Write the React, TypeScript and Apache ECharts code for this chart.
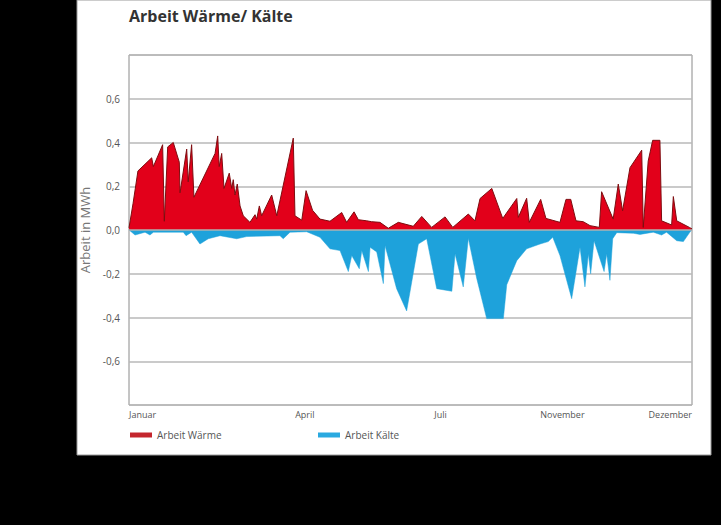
import React, { useEffect, useRef } from "react";
import * as echarts from "echarts";

const title = "Arbeit Wärme/ Kälte";
const yAxisName = "Arbeit in MWh";
const seriesNames = ["Arbeit Wärme", "Arbeit Kälte"];
const monthLabels = ["Januar", "April", "Juli", "November", "Dezember"];
const monthPositions = [0, 114, 202, 281, 365];

// day of year, value in MWh
const waermeDays = [
  0, 2.6, 5.8, 14.7, 15.8, 21.8, 22.9, 25.1, 28.7, 32.6, 33.1, 37.4, 38.4, 40.6, 42.1,
  55.8, 57.5, 58.5, 60.1, 61.6, 65.0, 66.6, 67.6, 68.7, 70.2, 72.0, 74.1, 78.4, 81.7,
  82.8, 84.5, 86.0, 92.5, 95.8, 106.5, 107.6, 112.0, 114.8, 119.0, 123.8, 130.3, 137.9,
  141.1, 145.9, 148.7, 154.1, 157.3, 162.7, 168.1, 174.6, 184.3, 189.8, 196.2, 204.9,
  209.9, 220.0, 224.3, 227.6, 235.2, 242.3, 251.4, 252.4, 257.8, 259.5, 266.9, 270.3,
  279.4, 283.3, 286.4, 289.8, 294.5, 298.9, 304.9, 306.4, 313.9, 317.2, 320.0, 324.8,
  332.4, 333.4, 336.6, 339.5, 344.2, 345.3, 351.8, 352.9, 355.1, 363.3, 365,
];
const waermeValues = [
  0.01, 0.12, 0.27, 0.33, 0.29, 0.39, 0.04, 0.38, 0.4, 0.31, 0.17, 0.37, 0.22, 0.39, 0.15,
  0.35, 0.43, 0.29, 0.35, 0.19, 0.26, 0.19, 0.23, 0.16, 0.21, 0.11, 0.065, 0.035, 0.07,
  0.05, 0.11, 0.065, 0.16, 0.065, 0.42, 0.065, 0.045, 0.18, 0.09, 0.05, 0.04, 0.08,
  0.035, 0.083, 0.047, 0.042, 0.038, 0.035, 0.008, 0.035, 0.017, 0.062, 0.012, 0.06,
  0.012, 0.073, 0.042, 0.144, 0.19, 0.053, 0.144, 0.058, 0.145, 0.035, 0.14, 0.053,
  0.035, 0.14, 0.14, 0.042, 0.038, 0.02, 0.012, 0.175, 0.05, 0.21, 0.088, 0.285,
  0.365, 0.012, 0.315, 0.41, 0.41, 0.042, 0.023, 0.153, 0.042, 0.012, 0.005,
];

const kaelteDays = [
  0, 1.8, 3.9, 10.4, 13.6, 15.8, 35.2, 37.0, 40.6, 46.0, 51.4, 59.0, 69.8, 76.3, 97.9,
  100.0, 104.4, 115.2, 123.8, 130.3, 136.8, 142.2, 144.4, 149.3, 150.9, 155.2, 156.3,
  160.6, 164.9, 166.0, 173.5, 180.0, 187.6, 193.0, 199.5, 209.3, 211.4, 216.7, 220.0,
  225.4, 231.9, 242.7, 244.9, 251.4, 257.8, 266.5, 271.8, 274.7, 279.4, 287.0, 292.4,
  295.6, 297.8, 299.3, 301.5, 308.0, 309.7, 311.8, 313.6, 316.2, 327.0, 331.3, 339.9,
  345.3, 348.5, 355.1, 359.4, 363.8, 365,
];
const kaelteValues = [
  0, -0.01, -0.023, -0.01, -0.023, -0.01, -0.01, -0.026, -0.01, -0.064, -0.04, -0.026,
  -0.04, -0.03, -0.026, -0.04, -0.01, -0.008, -0.033, -0.086, -0.094, -0.19, -0.117,
  -0.177, -0.094, -0.19, -0.079, -0.1, -0.245, -0.071, -0.268, -0.37, -0.064, -0.04,
  -0.268, -0.28, -0.109, -0.26, -0.038, -0.22, -0.405, -0.405, -0.25, -0.14, -0.086,
  -0.064, -0.053, -0.033, -0.117, -0.314, -0.079, -0.26, -0.109, -0.2, -0.049, -0.19,
  -0.109, -0.23, -0.04, -0.012, -0.015, -0.02, -0.01, -0.023, -0.01, -0.049, -0.053,
  -0.008, 0,
];

const FONT = "'Open Sans', 'Noto Sans', sans-serif";

export default function App() {
  const ref = useRef<HTMLDivElement>(null);

  useEffect(() => {
    document.body.style.margin = "0";
    const chart = echarts.init(ref.current!, null, { renderer: "svg" });
    const waerme = waermeDays.map((d, i) => [d, waermeValues[i]]);
    const kaelte = kaelteDays.map((d, i) => [d, kaelteValues[i]]);

    chart.setOption({
      animation: false,
      backgroundColor: "#000000",
      textStyle: { fontFamily: FONT },
      graphic: [
        {
          type: "rect",
          z: -10,
          silent: true,
          shape: { x: 77, y: 0, width: 634, height: 455 },
          style: { fill: "#ffffff", stroke: "#9a9a9a", lineWidth: 1 },
        },
      ],
      title: {
        text: title,
        left: 124,
        top: 3,
        textStyle: { fontFamily: FONT, fontSize: 16, fontWeight: "bold", color: "#333333" },
      },
      legend: [
        {
          left: 130,
          top: 430,
          padding: 0,
          icon: "rect",
          itemWidth: 22,
          itemHeight: 5,
          itemGap: 10,
          selectedMode: false,
          textStyle: { fontFamily: FONT, fontSize: 10, color: "#555555" },
          data: [{ name: seriesNames[0], itemStyle: { color: "#c4262e" } }],
        },
        {
          left: 318,
          top: 430,
          padding: 0,
          icon: "rect",
          itemWidth: 22,
          itemHeight: 5,
          selectedMode: false,
          textStyle: { fontFamily: FONT, fontSize: 10, color: "#555555" },
          data: [{ name: seriesNames[1], itemStyle: { color: "#2aa9e0" } }],
        },
      ],
      grid: {
        left: 129,
        top: 55,
        right: 29,
        bottom: 120,
        show: true,
        borderColor: "#8a8a8a",
        borderWidth: 1,
        backgroundColor: "transparent",
      },
      xAxis: {
        type: "value",
        min: 0,
        max: 365,
        axisLine: { show: false },
        axisTick: { show: false },
        splitLine: { show: false },
        axisLabel: {
          customValues: monthPositions,
          formatter: (v: number) => {
            const i = monthPositions.indexOf(v);
            return i >= 0 ? monthLabels[i] : "";
          },
          alignMinLabel: "left",
          alignMaxLabel: "right",
          fontSize: 9,
          color: "#555555",
          margin: 5,
          fontFamily: FONT,
        },
      },
      yAxis: {
        type: "value",
        min: -0.8,
        max: 0.8,
        interval: 0.2,
        name: yAxisName,
        nameLocation: "middle",
        nameRotate: 90,
        nameGap: 37,
        nameTextStyle: { fontFamily: FONT, fontSize: 13, color: "#777777" },
        axisLine: { show: false },
        axisTick: { show: false },
        splitLine: { show: true, lineStyle: { color: "#b8b8b8", width: 1.5 } },
        axisLabel: {
          fontSize: 10,
          color: "#555555",
          margin: 9,
          fontFamily: FONT,
          formatter: (v: number) =>
            Math.abs(v) > 0.7 ? "" : v.toFixed(1).replace(".", ","),
        },
      },
      series: [
        {
          name: seriesNames[0],
          type: "line",
          data: waerme,
          symbol: "none",
          z: 2,
          color: "#c4262e",
          lineStyle: { color: "#7e0d10", width: 1 },
          areaStyle: { color: "#e2001a", opacity: 1 },
        },
        {
          name: seriesNames[1],
          type: "line",
          data: kaelte,
          symbol: "none",
          z: 3,
          color: "#2aa9e0",
          lineStyle: { color: "#1ea2db", width: 0.5 },
          areaStyle: { color: "#1ea2db", opacity: 1 },
          markLine: {
            silent: true,
            symbol: "none",
            label: { show: false },
            lineStyle: { color: "#b0b0b0", width: 1.5, type: "solid" },
            data: [{ yAxis: 0 }],
          },
        },
      ],
    });
    return () => chart.dispose();
  }, []);

  return (
    <div
      ref={ref}
      style={{ position: "absolute", left: 0, top: 0, width: 721, height: 525 }}
    />
  );
}
